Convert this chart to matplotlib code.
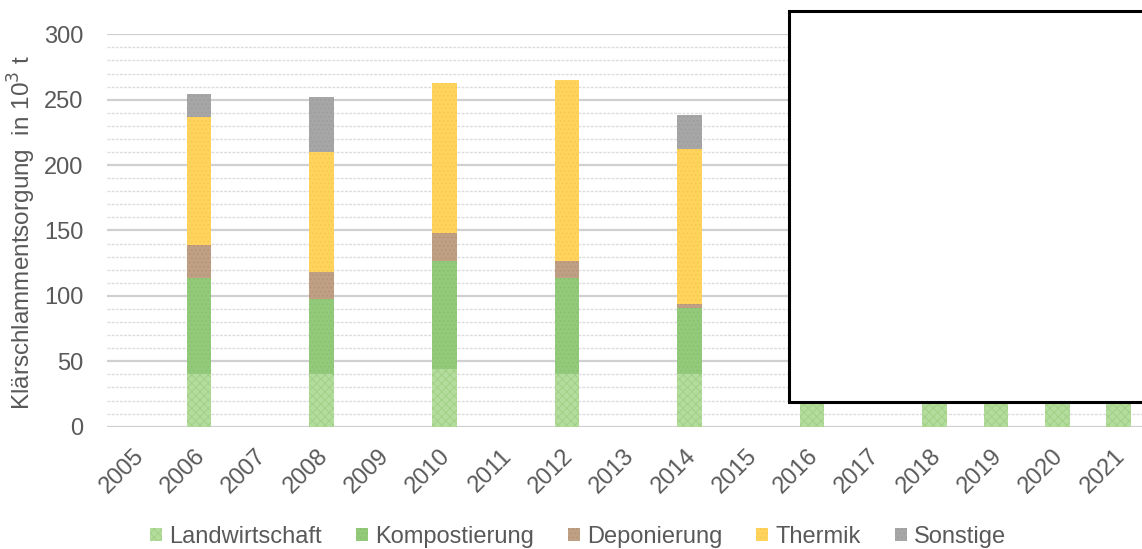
import matplotlib.pyplot as plt
import matplotlib.transforms as mtransforms
import numpy as np
from matplotlib.patches import Rectangle

plt.rcParams['font.family'] = ['Liberation Sans', 'DejaVu Sans']
plt.rcParams['hatch.linewidth'] = 0.6

years = [str(y) for y in range(2005, 2022)]
series = ['Landwirtschaft', 'Kompostierung', 'Deponierung', 'Thermik', 'Sonstige']
colors = ['#b4dc9c', '#92c97a', '#bfa084', '#ffd35c', '#a6a6a6']
hatch_colors = ['#9fcf85', '#88c16e', '#b39276', '#f5c94f', '#9c9c9c']
hatches = ['xxxx', '....', '....', '....', '....']

# values in 10^3 t (later years hidden by the white box)
landwirtschaft = [0, 40, 0, 40, 0, 44, 0, 40, 0, 40, 0, 40, 0, 40, 40, 40, 40]
kompostierung = [0, 74, 0, 58, 0, 83, 0, 74, 0, 51, 0, 0, 0, 0, 0, 0, 0]
deponierung = [0, 25, 0, 20, 0, 21, 0, 13, 0, 3, 0, 0, 0, 0, 0, 0, 0]
thermik = [0, 98, 0, 92, 0, 115, 0, 138, 0, 118, 0, 0, 0, 0, 0, 0, 0]
sonstige = [0, 17, 0, 42, 0, 0, 0, 0, 0, 26, 0, 0, 0, 0, 0, 0, 0]

data = [landwirtschaft, kompostierung, deponierung, thermik, sonstige]

fig = plt.figure(figsize=(11.42, 5.49), dpi=100)
ax = fig.add_axes([0.0937, 0.2228, 0.9063, 0.7147])

x = np.arange(len(years))
bottom = np.zeros(len(years))
for name, vals, c, hc, h in zip(series, data, colors, hatch_colors, hatches):
    vals = np.array(vals, dtype=float)
    ax.bar(x, vals, 0.4, bottom=bottom, color=c, edgecolor=hc, hatch=h, lw=0,
           label=name, zorder=3)
    bottom += vals

ax.set_xlim(-0.5, 16.38)
ax.set_ylim(0, 300)
ax.set_yticks(range(0, 301, 50))
ax.set_yticks(range(0, 301, 10), minor=True)
ax.grid(axis='y', which='major', color='#d0d0d0', lw=1.6, zorder=0)
ax.grid(axis='y', which='minor', color='#dcdcdc', lw=1.0, ls=(0, (2, 1)), zorder=0)
ax.tick_params(axis='y', which='both', length=0, labelsize=17, labelcolor='#595959', pad=17)
ax.tick_params(axis='x', length=0, labelsize=17, labelcolor='#595959', pad=13)
ax.set_xticks(x)
ax.set_xticklabels(years, rotation=45, ha='right', rotation_mode='anchor')
shift = mtransforms.ScaledTranslation(-5 / 100, 0, fig.dpi_scale_trans)
for lbl in ax.get_xticklabels():
    lbl.set_transform(lbl.get_transform() + shift)
for s in ax.spines.values():
    s.set_visible(False)

fig.text(22 / 1142, 1 - 233 / 549, 'Klärschlammentsorgung  in 10$^3$ t', rotation=90,
         ha='center', va='center', fontsize=17.5, color='#595959')

leg = fig.legend(loc='center', bbox_to_anchor=(578 / 1142, 1 - 537 / 549), ncol=5, frameon=False,
                 fontsize=17, labelcolor='#595959', handlelength=0.5, handleheight=0.5,
                 handletextpad=0.3, columnspacing=1.45, borderaxespad=0, borderpad=0)

# white box covering the upper right part of the chart
fig.patches.append(Rectangle((789 / 1142, 1 - 402 / 549), 0.35, 391 / 549,
                             transform=fig.transFigure, facecolor='white',
                             edgecolor='black', lw=2.2, zorder=10))

fig.savefig('out.png', dpi=100)
